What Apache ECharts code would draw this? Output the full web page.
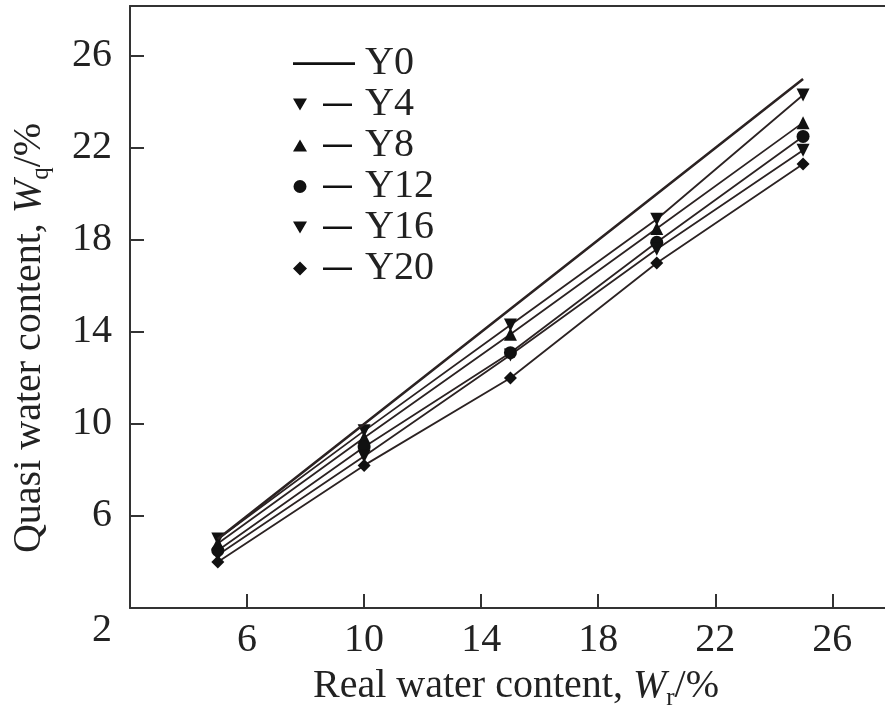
<!DOCTYPE html>
<html>
<head>
<meta charset="utf-8">
<script src="https://cdn.jsdelivr.net/npm/echarts@6/dist/echarts.min.js"></script>
<style>
    html, body { margin: 0; padding: 0; background: #fff; }
    #chart { width: 885px; height: 709px; }
</style>
</head>
<body>
<div id="chart"></div>
<script>
    // real water content (x) and quasi water content per sample group
    let realWater = [5, 10, 15, 20, 25]
    let seriesNames = ['Y0', 'Y4', 'Y8', 'Y12', 'Y16', 'Y20']
    let y0 = [5, 10, 15, 20, 25]
    let y4 = [5.0, 9.7, 14.3, 18.9, 24.3]
    let y8 = [4.8, 9.4, 13.9, 18.5, 23.1]
    let y12 = [4.5, 9.0, 13.1, 17.9, 22.5]
    let y16 = [4.3, 8.6, 13.0, 17.6, 21.9]
    let y20 = [4.0, 8.2, 12.0, 17.0, 21.3]
    let xTicks = [2, 6, 10, 14, 18, 22, 26]
    let yTicks = [2, 6, 10, 14, 18, 22, 26]

    let font = 'Liberation Serif'
    let ink = '#222'
    let lineColor = '#2b2222'

    // legend icons: marker on the left, short dash on the right (box 62 x 14)
    let box = 'M0,0 L0.01,0 Z M62,14 L61.99,14 Z '
    let dash = 'M30,6 L59,6 L59,8.5 L30,8.5 Z '
    let icons = {
        Y0: 'path://' + box + 'M0,5.8 L62,5.8 L62,8.6 L0,8.6 Z',
        Y4: 'path://' + box + dash + 'M0,1 L14,1 L7,13 Z',
        Y8: 'path://' + box + dash + 'M0,13 L14,13 L7,1 Z',
        Y12: 'path://' + box + dash + 'M0.5,7 A6.5,6.5 0 1,1 13.5,7 A6.5,6.5 0 1,1 0.5,7 Z',
        Y16: 'path://' + box + dash + 'M0,1 L14,1 L7,13 Z',
        Y20: 'path://' + box + dash + 'M7,0 L14,7 L7,14 L0,7 Z'
    }

    function pairs(vals) {
        let out = []
        for (let i = 0; i < realWater.length; i++) {
            out.push([realWater[i], vals[i]])
        }
        return out
    }

    function makeSeries(name, vals, symbol, rotate, width) {
        return {
            name: name,
            type: 'line',
            data: pairs(vals),
            symbol: symbol,
            symbolSize: 13,
            symbolRotate: rotate,
            showSymbol: symbol !== 'none',
            lineStyle: { color: lineColor, width: width },
            itemStyle: { color: '#111', borderWidth: 0 },
            z: name === 'Y0' ? 3 : 2
        }
    }

    let richName = {
        t: { fontFamily: font, fontSize: 40, color: ink, lineHeight: 50 },
        i: { fontFamily: font, fontSize: 40, color: ink, fontStyle: 'italic', lineHeight: 50 },
        s: { fontFamily: font, fontSize: 25, color: ink, lineHeight: 25, verticalAlign: 'bottom' }
    }

    let option = {
        animation: false,
        backgroundColor: '#fff',
        grid: {
            left: 130,
            right: 0,
            top: 6,
            bottom: 101,
            containLabel: false,
            outerBoundsMode: 'none'
        },
        legend: {
            left: 293,
            top: 43,
            orient: 'vertical',
            padding: 0,
            itemGap: 0,
            itemWidth: 62,
            itemHeight: 14,
            selectedMode: false,
            itemStyle: { borderWidth: 0 },
            textStyle: {
                fontFamily: font,
                fontSize: 40,
                color: ink,
                lineHeight: 41,
                padding: [0, 0, 0, 5]
            },
            data: seriesNames.map(function (n) {
                return { name: n, icon: icons[n], itemStyle: { color: '#111' } }
            })
        },
        xAxis: [{
            type: 'value',
            min: xTicks[0],
            max: 27.8,
            interval: 4,
            name: '{t|Real water content, }{i|W}{s|r}{t|/%}',
            nameLocation: 'middle',
            nameGap: 53,
            nameTextStyle: { padding: [0, 0, 0, 17], rich: richName },
            axisLine: { lineStyle: { color: '#333', width: 2 } },
            axisTick: { inside: true, length: 14, lineStyle: { color: '#333', width: 2 } },
            axisLabel: {
                showMinLabel: false,
                showMaxLabel: false,
                margin: 12,
                fontFamily: font,
                fontSize: 40,
                color: ink,
                formatter: function (v) { return xTicks.indexOf(v) >= 0 ? String(v) : '' }
            },
            splitLine: { show: false }
        }, {
            type: 'value',
            position: 'top',
            min: xTicks[0],
            max: 27.8,
            axisLine: { lineStyle: { color: '#333', width: 2 } },
            axisTick: { show: false },
            axisLabel: { show: false },
            splitLine: { show: false }
        }],
        yAxis: {
            type: 'value',
            min: yTicks[0],
            max: 28.17,
            interval: 4,
            name: '{t|Quasi water content, }{i|W}{s|q}{t|/%}',
            nameLocation: 'middle',
            nameGap: 76,
            nameTextStyle: { padding: [0, 62, 0, 0], rich: richName },
            axisLine: { lineStyle: { color: '#333', width: 2 } },
            axisTick: { inside: true, length: 14, lineStyle: { color: '#333', width: 2 } },
            axisLabel: {
                showMaxLabel: false,
                margin: 18,
                fontFamily: font,
                fontSize: 40,
                color: ink,
                formatter: function (v) {
                    if (v === yTicks[0]) return '{lo|' + v + '}'
                    return yTicks.indexOf(v) >= 0 ? String(v) : ''
                },
                rich: {
                    lo: { fontFamily: font, fontSize: 40, color: ink, padding: [44, 0, 0, 0] }
                }
            },
            splitLine: { show: false }
        },
        series: [
            makeSeries('Y0', y0, 'none', 0, 2.6),
            makeSeries('Y4', y4, 'triangle', 180, 1.8),
            makeSeries('Y8', y8, 'triangle', 0, 1.8),
            makeSeries('Y12', y12, 'circle', 0, 1.8),
            makeSeries('Y16', y16, 'triangle', 180, 1.8),
            makeSeries('Y20', y20, 'diamond', 0, 1.8)
        ]
    }

    let myChart = echarts.init(document.getElementById('chart'))
    myChart.setOption(option)
</script>
</body>
</html>
